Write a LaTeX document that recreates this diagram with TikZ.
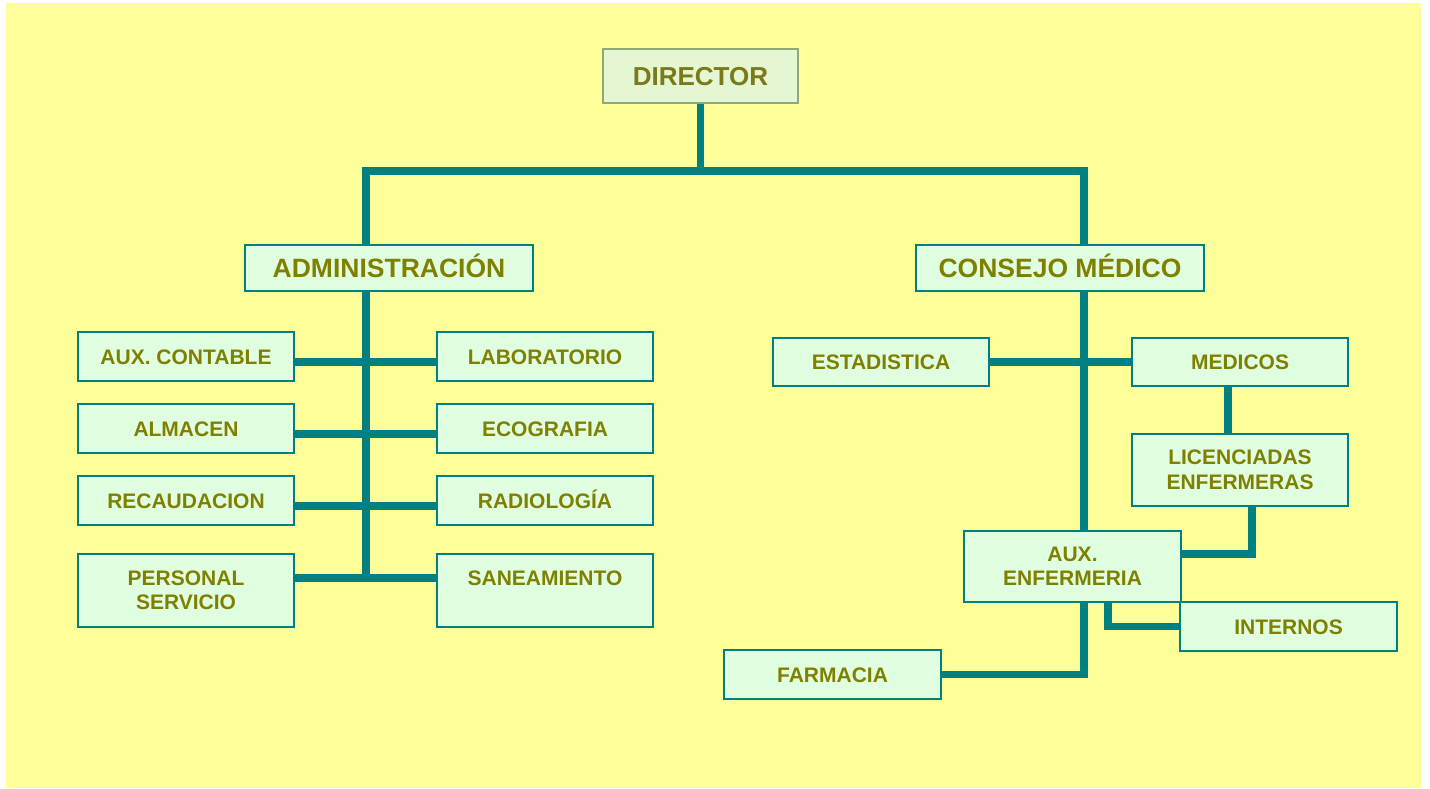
\documentclass[tikz,border=0pt]{standalone}
\usepackage{fontspec}
\setmainfont{Liberation Sans}
\definecolor{bg}{HTML}{FFFF99}
\definecolor{tealc}{HTML}{008080}
\definecolor{olivec}{HTML}{808000}
\definecolor{boxfill}{HTML}{E0FFE0}
\definecolor{dirfill}{HTML}{E4F6D2}
\definecolor{dirborder}{HTML}{8FA878}
\definecolor{dirtext}{HTML}{7A7A18}
\begin{document}
\begin{tikzpicture}[x=1pt,y=-1pt,
  box/.style={draw=tealc, line width=1.5pt, fill=boxfill, text=olivec,
    font=\fontsize{21}{24.5}\selectfont\bfseries, align=center, inner sep=0pt,
    minimum width=216pt, minimum height=49pt},
  one/.style={text height=15pt, text depth=0pt},
  big/.style={box, font=\fontsize{26.5}{30}\selectfont\bfseries,
    minimum width=288pt, minimum height=46pt, text height=19pt, text depth=0pt},
  dirbox/.style={draw=dirborder, line width=2.5pt, fill=dirfill, text=dirtext,
    font=\fontsize{26}{30}\selectfont\bfseries, inner sep=0pt,
    minimum width=195pt, minimum height=54pt, text height=18.6pt, text depth=0pt},
  conn/.style={draw=tealc, line width=7.5pt, line join=miter}]
\useasboundingbox (0,0) rectangle (1430,788);
\fill[white] (0,0) rectangle (1430,788);
\fill[bg] (6,3) rectangle (1421,788);

% nodes
\node[dirbox] (dir) at (700.5,76) {DIRECTOR};
\node[big] (adm) at (389,268) {ADMINISTRACIÓN};
\node[big] (cons) at (1060,268) {CONSEJO MÉDICO};

\node[box,one] (auxc) at (186,356.5) {AUX. CONTABLE};
\node[box,one] (alm) at (186,428.5) {ALMACEN};
\node[box,one] (rec) at (186,500.5) {RECAUDACION};
\node[box,minimum height=73pt] (per) at (186,590.5) {PERSONAL\\SERVICIO};
\node[box,one] (lab) at (545,356.5) {LABORATORIO};
\node[box,one] (eco) at (545,428.5) {ECOGRAFIA};
\node[box,one] (rad) at (545,500.5) {RADIOLOGÍA};
\node[box,minimum height=73pt] (san) at (545,590.5) {SANEAMIENTO\\\mbox{}};

\node[box,one,minimum height=48pt] (est) at (881,362) {ESTADISTICA};
\node[box,one,minimum height=48pt] (med) at (1240,362) {MEDICOS};
\node[box,minimum height=72pt] (lic) at (1240,470) {LICENCIADAS\\ENFERMERAS};
\node[box,minimum width=217pt,minimum height=71pt] (auxe) at (1072.5,566.5) {AUX.\\ENFERMERIA};
\node[box,one,minimum width=217pt] (int) at (1288.5,626.5) {INTERNOS};
\node[box,one,minimum width=217pt] (farm) at (832.5,674.5) {FARMACIA};

% helper coordinates
\coordinate (hb) at (0,171);
\coordinate (admtop) at ([xshift=-23pt]adm.north);
\coordinate (admbot) at ([xshift=-23pt]adm.south);
\coordinate (constop) at ([xshift=24pt]cons.north);
\coordinate (consbot) at ([xshift=24pt]cons.south);
\coordinate (r4) at ([yshift=12.5pt]per.east);

% connectors
\draw[conn] (dir.south) -- (dir.south |- hb);
\draw[conn] (admtop) -- (admtop |- hb) -- (constop |- hb) -- (constop);
\draw[conn] (admbot) -- (admbot |- r4);
\draw[conn] ([yshift=-5.5pt]auxc.east) -- ([yshift=-5.5pt]lab.west);
\draw[conn] ([yshift=-5.5pt]alm.east) -- ([yshift=-5.5pt]eco.west);
\draw[conn] ([yshift=-5.5pt]rec.east) -- ([yshift=-5.5pt]rad.west);
\draw[conn] (r4) -- ([yshift=12.5pt]san.west);

\draw[conn] (consbot) -- (consbot |- auxe.north);
\draw[conn] (est.east) -- (med.west);
\draw[conn] ([xshift=-12pt]med.south) -- ([xshift=-12pt]lic.north);
\draw[conn] ([xshift=12pt]lic.south) |- ([yshift=12.5pt]auxe.east);
\draw[conn] ([xshift=35.5pt]auxe.south) |- (int.west);
\draw[conn] ([xshift=11.5pt]auxe.south) |- (farm.east);
\end{tikzpicture}
\end{document}
